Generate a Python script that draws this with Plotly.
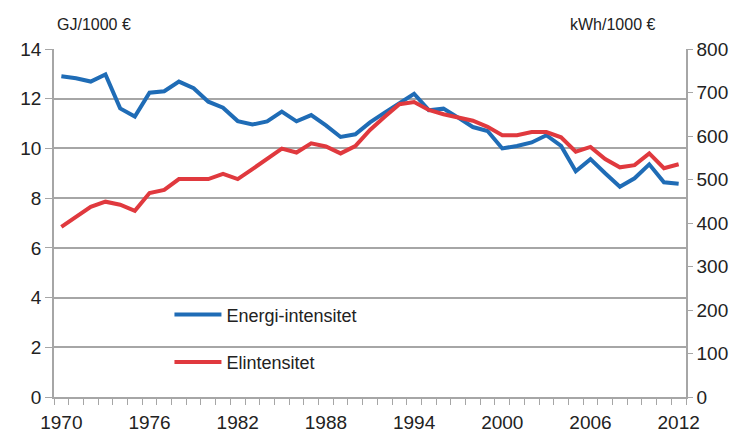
import plotly.graph_objects as go

years = list(range(1970, 2013))
energi_intensitet = [12.90, 12.82, 12.69, 12.98, 11.61, 11.28, 12.24, 12.30, 12.69, 12.42,
                     11.88, 11.64, 11.10, 10.96, 11.09, 11.48, 11.09, 11.34, 10.93, 10.46,
                     10.57, 11.05, 11.44, 11.84, 12.20, 11.54, 11.60, 11.24, 10.86, 10.70,
                     10.00, 10.10, 10.24, 10.53, 10.10, 9.08, 9.57, 9.00, 8.46, 8.80,
                     9.36, 8.64, 8.58]
elintensitet = [391, 414, 437, 449, 442, 428, 469, 476, 501, 501,
                501, 513, 501, 524, 547, 571, 562, 583, 576, 560,
                577, 614, 644, 673, 678, 660, 650, 642, 635, 621,
                602, 602, 609, 609, 597, 564, 575, 547, 528, 533,
                560, 526, 535]
xtick_labels = [1970, 1976, 1982, 1988, 1994, 2000, 2006, 2012]

BLUE = "#1f6cb6"
RED = "#e0393e"
GRID = "#a6a6a6"
FONT = "Liberation Sans, Arial, sans-serif"

# page body has an 8px default margin; compensate in the figure margins
L, T = 43, 41.3
PW, PH = 635, 350

fig = go.Figure()
fig.add_trace(go.Scatter(x=years, y=energi_intensitet, name="Energi-intensitet",
                         mode="lines", line=dict(color=BLUE, width=4),
                         legendgroup="a"))
fig.add_trace(go.Scatter(x=years, y=elintensitet, name="Elintensitet",
                         mode="lines", line=dict(color=RED, width=4),
                         yaxis="y2", legendgroup="b"))

fig.update_layout(
    width=741, height=437,
    margin=dict(l=L, r=741 - L - PW, t=T, b=437 - T - PH),
    plot_bgcolor="white", paper_bgcolor="white",
    font=dict(family=FONT, size=19, color="#222222"),
    xaxis=dict(
        range=[1969.5, 2012.5],
        tickvals=xtick_labels,
        ticktext=[str(v) for v in xtick_labels],
        ticks="",
        ticklabelstandoff=7,
        showgrid=False,
        showline=True, linecolor=GRID, linewidth=1.5,
        tickfont=dict(size=19),
        minor=dict(tickvals=[y - 0.5 for y in years] + [2012.5], ticks="outside",
                   ticklen=6, tickcolor=GRID, tickwidth=1.2, showgrid=False),
        zeroline=False,
    ),
    yaxis=dict(
        range=[0, 14], dtick=2,
        showgrid=True, gridcolor=GRID, gridwidth=1.5,
        showline=True, linecolor=GRID, linewidth=1.5,
        ticks="outside", ticklen=7, tickcolor=GRID,
        tickfont=dict(size=19),
        zeroline=False,
    ),
    yaxis2=dict(
        range=[0, 800], dtick=100,
        overlaying="y", side="right",
        showgrid=False,
        showline=True, linecolor=GRID, linewidth=1.5,
        ticks="outside", ticklen=5, tickcolor=GRID,
        tickfont=dict(size=19),
        zeroline=False,
    ),
    legend=dict(
        x=(159 - L) / PW, y=1 - 248.7 / PH, xanchor="left", yanchor="top",
        bgcolor="rgba(0,0,0,0)", font=dict(size=18),
        traceorder="grouped", tracegroupgap=21, itemwidth=47,
    ),
    showlegend=True,
)

fig.add_annotation(text="GJ/1000 €", xref="paper", yref="paper",
                   x=(44 - L) / PW, y=1 + (T - 16.5) / PH, xanchor="left", yanchor="middle",
                   showarrow=False, font=dict(size=16))
fig.add_annotation(text="kWh/1000 €", xref="paper", yref="paper",
                   x=(649 - L) / PW, y=1 + (T - 16.5) / PH, xanchor="right", yanchor="middle",
                   showarrow=False, font=dict(size=16))

fig.write_html("out.html")
